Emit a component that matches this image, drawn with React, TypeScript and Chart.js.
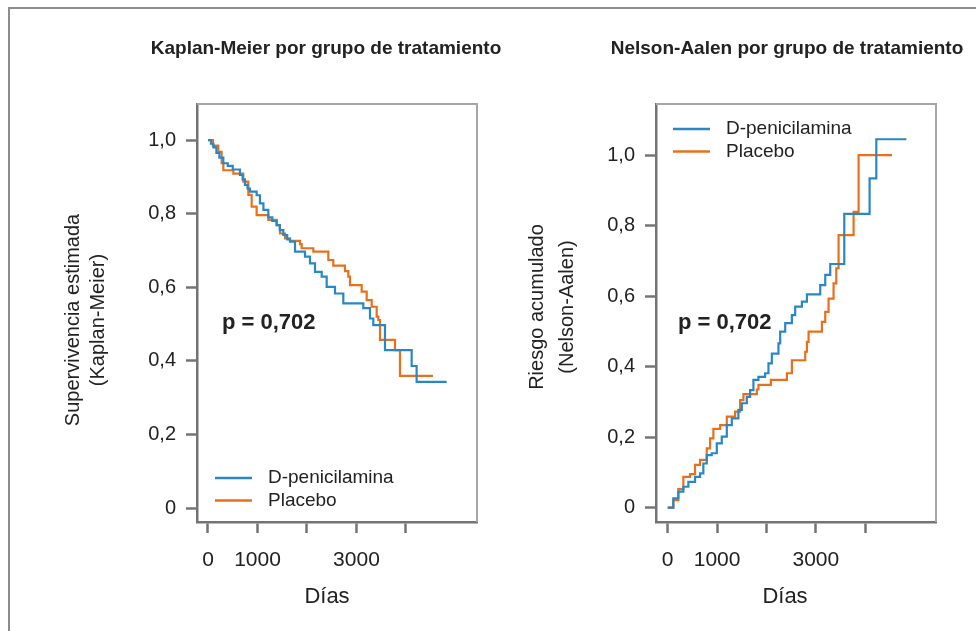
import React, { useEffect, useRef } from "react";
import { Chart, registerables } from "chart.js";

Chart.register(...registerables);

// ---------- DATA ----------
const seriesLabels = ["D-penicilamina", "Placebo"];
const seriesColors = ["#2a87c6", "#e8701c"];

// Kaplan-Meier, D-penicilamina
const kmDpenTimes = [0, 60, 110, 170, 230, 310, 400, 500, 646, 700, 747, 800, 848, 983, 1050, 1120, 1219, 1300, 1387, 1450, 1522, 1600, 1657, 1758, 1960, 2061, 2162, 2297, 2398, 2566, 2734, 3138, 3273, 3340, 3576, 4115, 4215, 4822];
const kmDpenSurv = [1.0, 0.99, 0.98, 0.965, 0.952, 0.937, 0.93, 0.92, 0.905, 0.893, 0.878, 0.868, 0.86, 0.85, 0.828, 0.81, 0.79, 0.78, 0.769, 0.755, 0.742, 0.73, 0.724, 0.697, 0.683, 0.665, 0.642, 0.629, 0.601, 0.583, 0.556, 0.543, 0.515, 0.497, 0.429, 0.386, 0.343, 0.343];

// Kaplan-Meier, Placebo
const kmPlacTimes = [0, 100, 209, 276, 310, 512, 713, 815, 882, 983, 1219, 1387, 1455, 1556, 1657, 1859, 1892, 2128, 2431, 2532, 2768, 2835, 2869, 3105, 3206, 3307, 3408, 3441, 3475, 3778, 3879, 4545];
const kmPlacSurv = [1.0, 0.985, 0.968, 0.937, 0.918, 0.909, 0.887, 0.851, 0.819, 0.796, 0.783, 0.769, 0.746, 0.733, 0.726, 0.717, 0.706, 0.697, 0.674, 0.659, 0.644, 0.629, 0.606, 0.588, 0.565, 0.547, 0.52, 0.511, 0.457, 0.429, 0.359, 0.359];

// Nelson-Aalen, D-penicilamina
const naDpenTimes = [0, 114, 215, 317, 418, 554, 655, 722, 791, 892, 994, 1095, 1197, 1298, 1432, 1501, 1602, 1669, 1736, 1838, 1973, 2041, 2109, 2243, 2278, 2380, 2515, 2582, 2718, 2820, 3089, 3191, 3292, 3576, 4089, 4225, 4834];
const naDpenHaz = [0, 0.026, 0.045, 0.059, 0.073, 0.087, 0.097, 0.125, 0.149, 0.154, 0.182, 0.201, 0.234, 0.253, 0.277, 0.296, 0.314, 0.333, 0.362, 0.371, 0.381, 0.409, 0.437, 0.466, 0.499, 0.523, 0.546, 0.57, 0.584, 0.605, 0.631, 0.66, 0.691, 0.833, 0.934, 1.045, 1.045];

// Nelson-Aalen, Placebo
const naPlacTimes = [0, 114, 215, 317, 452, 554, 655, 791, 858, 925, 1063, 1197, 1365, 1467, 1534, 1805, 1838, 2089, 2414, 2515, 2785, 2820, 2853, 3123, 3191, 3258, 3359, 3414, 3461, 3765, 3866, 4544];
const naPlacHaz = [0, 0.021, 0.052, 0.087, 0.095, 0.121, 0.135, 0.168, 0.196, 0.223, 0.234, 0.258, 0.272, 0.305, 0.322, 0.335, 0.348, 0.362, 0.381, 0.418, 0.442, 0.47, 0.499, 0.527, 0.555, 0.593, 0.636, 0.679, 0.773, 0.839, 1.0, 1.0];

const yTickValues = [0, 0.2, 0.4, 0.6, 0.8, 1.0];
const yTickLabels = ["0", "0,2", "0,4", "0,6", "0,8", "1,0"];
const xTickValues = [0, 1000, 2000, 3000, 4000];
const xTickLabels = ["0", "1000", "", "3000", ""];

const kmTitle = "Kaplan-Meier por grupo de tratamiento";
const naTitle = "Nelson-Aalen por grupo de tratamiento";
const kmYTitle = ["Supervivencia estimada", "(Kaplan-Meier)"];
const naYTitle = ["Riesgo acumulado", "(Nelson-Aalen)"];
const xTitle = "Días";
const pValueText = "p = 0,702";

// ---------- STYLE ----------
const FONT = "'Liberation Sans', Arial, Helvetica, sans-serif";
const AXIS_DARK = "#747474";
const AXIS_LIGHT = "#a6a6a6";
const TEXT = "#222222";
const CH = 631;

const decorPlugin = {
  id: "decor",
  afterDraw(chart: any, _args: any, o: any) {
    const { ctx, chartArea: a } = chart;
    ctx.save();
    // top & right box edges
    ctx.strokeStyle = AXIS_LIGHT;
    ctx.lineWidth = 2;
    ctx.beginPath();
    ctx.moveTo(a.left, a.top);
    ctx.lineTo(a.right, a.top);
    ctx.lineTo(a.right, a.bottom);
    ctx.stroke();

    ctx.fillStyle = TEXT;
    ctx.textAlign = "center";
    ctx.textBaseline = "middle";
    // panel title
    ctx.font = `bold 19px ${FONT}`;
    ctx.fillText(o.title, o.titleX, o.titleY);
    // x title
    ctx.font = `22px ${FONT}`;
    ctx.fillText(xTitle, o.xTitleX, o.xTitleY);
    // y title (rotated, two lines)
    ctx.font = `20px ${FONT}`;
    o.yTitle.forEach((line: string, i: number) => {
      ctx.save();
      ctx.translate(o.yTitleX[i], o.yTitleY);
      ctx.rotate(-Math.PI / 2);
      ctx.fillText(line, 0, 0);
      ctx.restore();
    });
    // p-value
    ctx.textAlign = "left";
    ctx.font = `bold 22px ${FONT}`;
    ctx.fillText(pValueText, o.pX, o.pY);
    // legend
    ctx.font = `19px ${FONT}`;
    chart.data.datasets.forEach((ds: any, i: number) => {
      const y = o.legY + i * 22.5;
      ctx.strokeStyle = ds.borderColor;
      ctx.lineWidth = 2.5;
      ctx.beginPath();
      ctx.moveTo(o.legX, y);
      ctx.lineTo(o.legX + 37, y);
      ctx.stroke();
      ctx.fillStyle = TEXT;
      ctx.fillText(ds.label, o.legX + 53, y);
    });
    ctx.restore();
  },
};

type PanelProps = {
  left: number;
  width: number;
  series: { times: number[]; values: number[] }[];
  yMin: number;
  yMax: number;
  xMin: number;
  xMax: number;
  padding: { left: number; right: number; top: number; bottom: number };
  decor: any;
};

function Panel(p: PanelProps) {
  const ref = useRef<HTMLCanvasElement | null>(null);
  useEffect(() => {
    if (!ref.current) return;
    const chart = new Chart(ref.current, {
      type: "line",
      data: {
        datasets: p.series.map((s, i) => ({
          label: seriesLabels[i],
          data: s.times.map((t, k) => ({ x: t, y: s.values[k] })),
          borderColor: seriesColors[i],
          backgroundColor: seriesColors[i],
          borderWidth: 2.2,
          pointRadius: 0,
          stepped: "before" as const,
          fill: false,
        })),
      },
      options: {
        responsive: false,
        animation: false,
        layout: { padding: p.padding },
        plugins: {
          legend: { display: false },
          title: { display: false },
          tooltip: { enabled: false },
          decor: p.decor,
        } as any,
        scales: {
          x: {
            type: "linear",
            min: p.xMin,
            max: p.xMax,
            afterBuildTicks: (s: any) => {
              s.ticks = xTickValues.map((v) => ({ value: v }));
            },
            afterFit: (s: any) => {
              s.height = 60;
            },
            ticks: {
              autoSkip: false,
              maxRotation: 0,
              minRotation: 0,
              padding: 15,
              color: TEXT,
              font: { family: FONT, size: 21 },
              callback: (_v: any, i: number) => xTickLabels[i],
            },
            grid: {
              drawOnChartArea: false,
              drawTicks: true,
              tickLength: 11,
              tickColor: AXIS_DARK,
              tickWidth: 2.5,
            },
            border: { color: AXIS_DARK, width: 2.5 },
          },
          y: {
            type: "linear",
            min: p.yMin,
            max: p.yMax,
            afterBuildTicks: (s: any) => {
              s.ticks = yTickValues.map((v) => ({ value: v }));
            },
            afterFit: (s: any) => {
              s.width = 60;
            },
            ticks: {
              padding: 10,
              color: TEXT,
              font: { family: FONT, size: 20 },
              callback: (_v: any, i: number) => yTickLabels[i],
            },
            grid: {
              drawOnChartArea: false,
              drawTicks: true,
              tickLength: 11,
              tickColor: AXIS_DARK,
              tickWidth: 2.5,
            },
            border: { color: AXIS_DARK, width: 2.5 },
          },
        },
      },
      plugins: [decorPlugin],
    });
    return () => chart.destroy();
  }, []);
  return (
    <canvas
      ref={ref}
      width={p.width}
      height={CH}
      style={{ position: "absolute", left: p.left, top: 0, width: p.width, height: CH }}
    />
  );
}

export default function App() {
  return (
    <div
      style={{
        position: "fixed",
        left: 0,
        top: 0,
        width: 976,
        height: 631,
        background: "#ffffff",
        overflow: "hidden",
      }}
    >
      <div
        style={{
          position: "absolute",
          left: 8,
          top: 7,
          width: 1000,
          height: 700,
          borderLeft: "2px solid #8c8c8c",
          borderTop: "2px solid #8c8c8c",
        }}
      />
      <Panel
        left={0}
        width={560}
        series={[
          { times: kmDpenTimes, values: kmDpenSurv },
          { times: kmPlacTimes, values: kmPlacSurv },
        ]}
        yMin={-0.038}
        yMax={1.098}
        xMin={-222}
        xMax={5435}
        padding={{ left: 137, right: 83, top: 104, bottom: 49 }}
        decor={{
          title: kmTitle,
          titleX: 326,
          titleY: 49,
          xTitleX: 327,
          xTitleY: 597,
          yTitle: kmYTitle,
          yTitleX: [73, 98],
          yTitleY: 320,
          pX: 222,
          pY: 323,
          legX: 215,
          legY: 478,
        }}
      />
      <Panel
        left={488}
        width={488}
        series={[
          { times: naDpenTimes, values: naDpenHaz },
          { times: naPlacTimes, values: naPlacHaz },
        ]}
        yMin={-0.041}
        yMax={1.145}
        xMin={-237}
        xMax={5434}
        padding={{ left: 108, right: 40, top: 104, bottom: 49 }}
        decor={{
          title: naTitle,
          titleX: 299,
          titleY: 49,
          xTitleX: 297,
          xTitleY: 597,
          yTitle: naYTitle,
          yTitleX: [49, 79],
          yTitleY: 307,
          pX: 190,
          pY: 323,
          legX: 185,
          legY: 129,
        }}
      />
    </div>
  );
}
